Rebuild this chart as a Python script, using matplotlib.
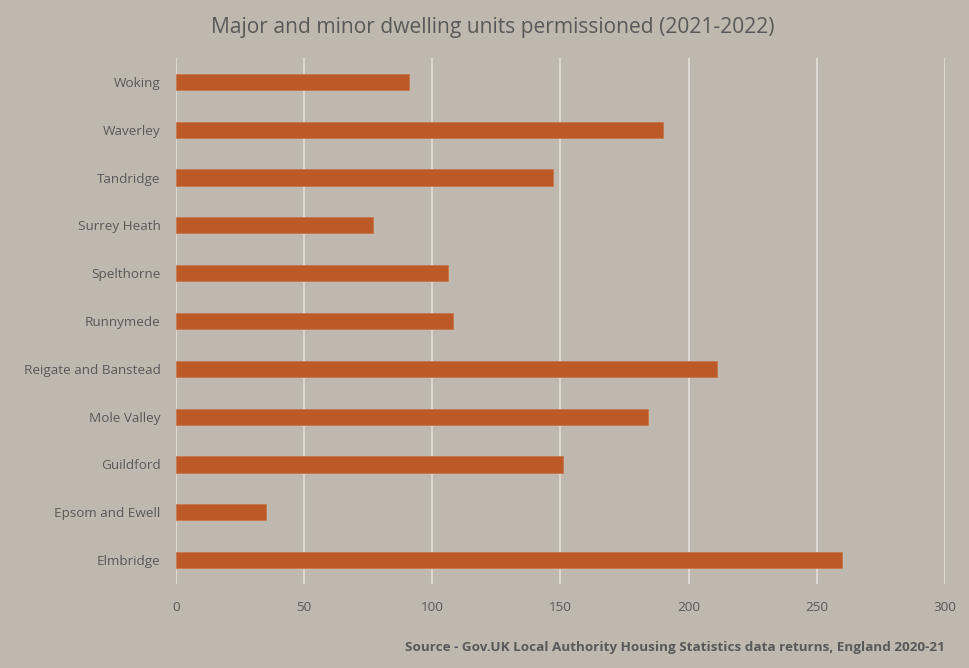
import matplotlib
matplotlib.use('Agg')
from matplotlib import pyplot as plt

districts = ['Elmbridge', 'Epsom and Ewell', 'Guildford', 'Mole Valley',
             'Reigate and Banstead', 'Runnymede', 'Spelthorne', 'Surrey Heath',
             'Tandridge', 'Waverley', 'Woking']
units = [260, 35, 151, 184, 211, 108, 106, 77, 147, 190, 91]
xticks = [0, 50, 100, 150, 200, 250, 300]

bg = '#bfb8ae'
bar_col = '#bc5a27'
txt = '#595959'

plt.rcParams['font.family'] = ['Open Sans', 'DejaVu Sans']

fig = plt.figure(figsize=(9.7, 6.68), dpi=100, facecolor=bg)
ax = fig.add_axes([176/970, 1 - 584/668, 769/970, 526/668], facecolor=bg)

ax.barh(range(len(districts)), units, height=0.34, color=bar_col,
        edgecolor='#c8774d', linewidth=0.6, zorder=3)

ax.set_xlim(0, 300)
ax.set_ylim(-0.5, len(districts) - 0.5)
ax.set_xticks(xticks)
ax.set_yticks(range(len(districts)))
ax.set_yticklabels(districts)
ax.grid(axis='x', color='#e2ded8', linewidth=1.2, zorder=0)
for s in ax.spines.values():
    s.set_visible(False)
ax.tick_params(length=0, colors=txt, labelsize=9.7)
ax.tick_params(axis='x', pad=12)
ax.tick_params(axis='y', pad=11)

fig.text(493/970, 1 - 27/668, 'Major and minor dwelling units permissioned (2021-2022)',
         ha='center', va='center', fontsize=15.1, color=txt)
fig.text(945/970, 1 - 648/668,
         'Source - Gov.UK Local Authority Housing Statistics data returns, England 2020-21',
         ha='right', va='center', fontsize=9.7, fontweight='bold', color=txt)

fig.savefig('out.png', dpi=100, facecolor=bg)
